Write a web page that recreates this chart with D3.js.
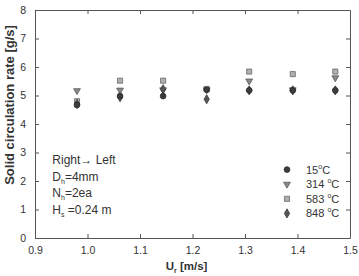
<!DOCTYPE html>
<html>
<head>
<meta charset="utf-8">
<script src="https://cdn.jsdelivr.net/npm/d3@7"></script>
<style>
  body { margin: 0; background: #fff; }
  text { font-family: "Liberation Sans", Arial, sans-serif; fill: #333; }
</style>
</head>
<body>
<div id="chart"></div>
<script>
// Data
const velocity = [0.98, 1.062, 1.144, 1.227, 1.308, 1.391, 1.472]
const temps = ['15', '314', '583', '848']
const rate15 = [4.67, 4.98, 4.98, 5.2, 5.18, 5.18, 5.18]
const rate314 = [5.17, 5.19, 5.2, 5.2, 5.51, 5.2, 5.62]
const rate583 = [4.8, 5.52, 5.52, 5.23, 5.84, 5.75, 5.84]
const rate848 = [4.7, 4.94, 5.22, 4.87, 5.18, 5.18, 5.18]
const xTicks = [0.9, 1.0, 1.1, 1.2, 1.3, 1.4, 1.5]
const yTicks = [0, 1, 2, 3, 4, 5, 6, 7, 8]

const dimensions = { width: 359, height: 276, left: 35, right: 9, top: 10, bottom: 38 }
dimensions.ctrWidth = dimensions.width - dimensions.left - dimensions.right
dimensions.ctrHeight = dimensions.height - dimensions.top - dimensions.bottom

const svg = d3.select('#chart').append('svg')
  .attr('width', dimensions.width)
  .attr('height', dimensions.height)

const ctr = svg.append('g')
  .attr('transform', `translate(${dimensions.left}, ${dimensions.top})`)

const x = d3.scaleLinear().domain([0.9, 1.5]).range([0, dimensions.ctrWidth])
const y = d3.scaleLinear().domain([0, 8]).range([dimensions.ctrHeight, 0])

// axes, ticks inward, mirrored on top/right
const axisStyle = g => {
  g.select('.domain').attr('stroke', '#555')
  g.selectAll('.tick line').attr('stroke', '#555')
  g.selectAll('.tick text').attr('font-size', 10.5).attr('fill', '#444')
    .attr('font-family', '"Liberation Sans", Arial, sans-serif')
}
const fmt = d3.format('.1f')
ctr.append('g').attr('transform', `translate(0, ${dimensions.ctrHeight})`)
  .call(d3.axisBottom(x).tickValues(xTicks).tickFormat(fmt).tickSizeInner(-4).tickSizeOuter(0).tickPadding(9))
  .call(axisStyle)
ctr.append('g')
  .call(d3.axisTop(x).tickValues(xTicks.slice(1, -1)).tickSizeInner(-4).tickSizeOuter(0).tickFormat(''))
  .call(axisStyle)
ctr.append('g')
  .call(d3.axisLeft(y).tickValues(yTicks).tickSizeInner(-4).tickSizeOuter(0).tickPadding(9))
  .call(axisStyle)
ctr.append('g').attr('transform', `translate(${dimensions.ctrWidth}, 0)`)
  .call(d3.axisRight(y).tickValues(yTicks.slice(1, -1)).tickSizeInner(-4).tickSizeOuter(0).tickFormat(''))
  .call(axisStyle)

// markers
const styles = {
  '15': { type: d3.symbolCircle, size: 26, fill: '#3c3c3c', stroke: '#2a2a2a' },
  '314': { type: d3.symbolTriangle, size: 20, fill: '#8a8a8a', stroke: '#555', rotate: 180 },
  '583': { type: d3.symbolSquare, size: 26, fill: '#b0b0b0', stroke: '#666' },
  '848': { type: d3.symbolDiamond, size: 24, fill: '#555', stroke: '#3a3a3a' },
}
const series = [
  { t: '583', values: rate583 },
  { t: '314', values: rate314 },
  { t: '848', values: rate848 },
  { t: '15', values: rate15 },
]
const symbolPath = t => d3.symbol().type(styles[t].type).size(styles[t].size)()

series.forEach(s => {
  const st = styles[s.t]
  ctr.append('g').selectAll('path')
    .data(s.values.map((v, i) => ({ x: velocity[i], y: v })))
    .join('path')
    .attr('d', symbolPath(s.t))
    .attr('transform', d => `translate(${x(d.x)}, ${y(d.y)}) rotate(${st.rotate || 0})`)
    .attr('fill', st.fill)
    .attr('stroke', st.stroke)
    .attr('stroke-width', 0.8)
})

// legend
const legend = ctr.append('g').attr('transform', `translate(${x(1.38)}, ${y(2.4)})`)
temps.forEach((t, i) => {
  const st = styles[t]
  const row = legend.append('g').attr('transform', `translate(0, ${i * 14.6})`)
  row.append('path')
    .attr('d', symbolPath(t))
    .attr('transform', `rotate(${st.rotate || 0})`)
    .attr('fill', st.fill).attr('stroke', st.stroke).attr('stroke-width', 0.8)
  const txt = row.append('text').attr('x', 19).attr('y', 4).attr('font-size', 11)
  txt.append('tspan').text(t === '15' ? t : t + ' ')
  txt.append('tspan').attr('font-size', 7).attr('dy', -5).text('o')
  txt.append('tspan').attr('dy', 5).text('C')
})

// annotation
const ann = ctr.append('g').attr('transform', `translate(${x(0.933)}, 0)`)
const lines = [['Right', '\u2192 Left', ''], ['D', 'h', '=4mm'], ['N', 'h', '=2ea'], ['H', 's', ' =0.24 m']]
lines.forEach((l, i) => {
  const t = ann.append('text').attr('y', y(2.6) + i * 16.6).attr('font-size', 12)
  if (i === 0) {
    t.text('Right\u2192 Left')
  } else {
    t.append('tspan').text(l[0])
    t.append('tspan').attr('font-size', 7).attr('dy', 3).text(l[1])
    t.append('tspan').attr('dy', -3).text(l[2])
  }
})

// axis titles
const xl = svg.append('text')
  .attr('x', dimensions.left + dimensions.ctrWidth / 2 - 6)
  .attr('y', 270)
  .attr('text-anchor', 'middle')
  .attr('font-size', 11.5).attr('font-weight', 'bold')
xl.append('tspan').text('U')
xl.append('tspan').attr('font-size', 7).attr('dy', 3).text('r')
xl.append('tspan').attr('dy', -3).text(' [m/s]')

svg.append('text')
  .attr('transform', `translate(14, 105) rotate(-90)`)
  .attr('text-anchor', 'middle')
  .attr('font-size', 13).attr('font-weight', 'bold')
  .text('Solid circulation rate [g/s]')
</script>
</body>
</html>
